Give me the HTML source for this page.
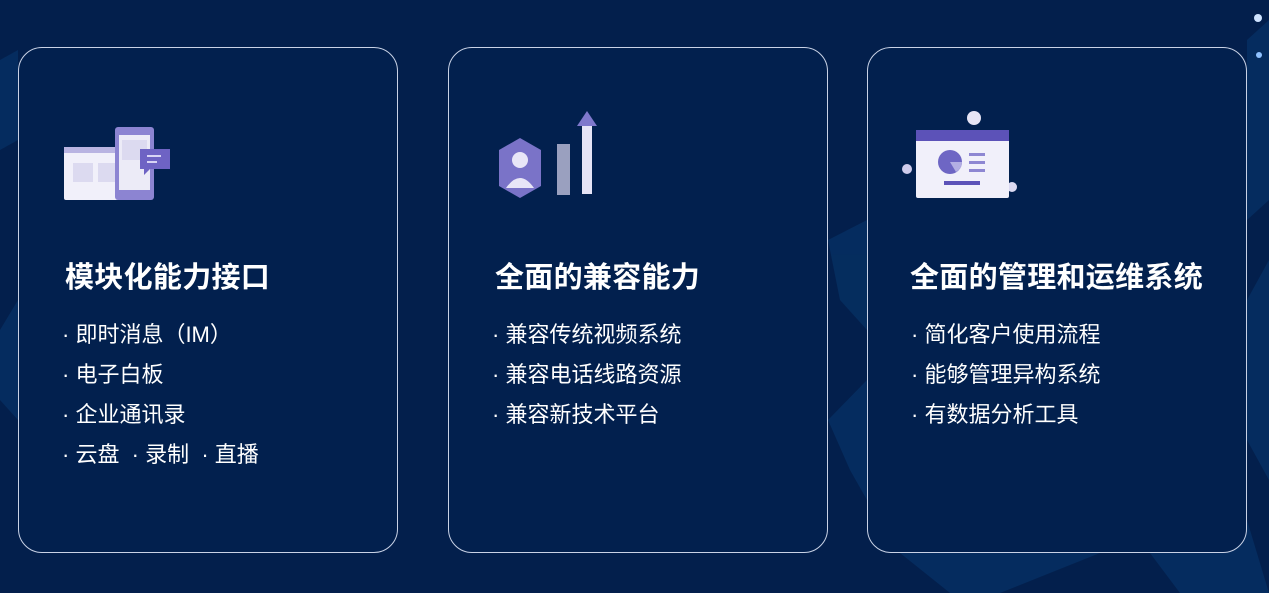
<!DOCTYPE html>
<html><head><meta charset="utf-8"><style>
body{margin:0;width:1269px;height:593px;background:#031f4c;overflow:hidden;position:relative;font-family:"Liberation Sans","Noto Sans CJK SC",sans-serif;color:#fff}
.bg{position:absolute;left:0;top:0}
.card{position:absolute;top:47px;width:380px;height:506px;border:1px solid #c9d2e6;border-radius:24px;background:#02204e;box-sizing:border-box}
.t{position:absolute;top:254px;font-size:29px;font-weight:bold;white-space:nowrap;letter-spacing:0.3px}
.l{position:absolute;top:315px;font-size:22px;line-height:40px;white-space:nowrap}
.icon{position:absolute}
</style></head><body>
<svg class="bg" width="1269" height="593">
<g fill="#0b4d8a" opacity="0.3">
<polygon points="0,60 18,50 18,140 0,150"/>
<polygon points="0,330 18,300 18,420 0,400"/>
<polygon points="828,240 867,220 867,330 840,300"/>
<polygon points="828,420 867,380 867,500 850,470"/>
<polygon points="1247,40 1269,20 1269,200 1247,220"/>
<polygon points="1247,300 1269,260 1269,480 1247,440"/>
<polygon points="900,553 1100,553 1000,593 950,593"/>
<polygon points="1150,553 1247,520 1269,593 1180,593"/>
</g>
<circle cx="1258" cy="18" r="4" fill="#cfe3ff"/><circle cx="1259" cy="55" r="3" fill="#8fc1ff"/>
</svg>

<div class="card" style="left:18px"></div>
<div class="card" style="left:448px"></div>
<div class="card" style="left:867px"></div>

<svg class="icon" style="left:60px;top:125px" width="115" height="80">
<rect x="4" y="22" width="88" height="53" rx="2" fill="#f1f0fa"/>
<rect x="4" y="22" width="88" height="6" fill="#b9b4e2"/>
<rect x="13" y="38" width="20" height="19" fill="#dcdaf0"/><rect x="38" y="38" width="20" height="19" fill="#dcdaf0"/>
<rect x="55" y="2" width="39" height="73" rx="3" fill="#8c84d2"/>
<rect x="59" y="10" width="31" height="55" fill="#ecebf7"/>
<rect x="62" y="15" width="25" height="20" fill="#dcdaf0"/>
<path d="M80 24h30v20h-20l-6 6v-6h-4z" fill="#6e63c4"/>
<rect x="87" y="30" width="14" height="2" fill="#d8d4f5"/><rect x="87" y="36" width="10" height="2" fill="#d8d4f5"/>
</svg>

<svg class="icon" style="left:490px;top:108px" width="120" height="95">
<polygon points="30,30 51,42 51,78 30,90 9,78 9,42" fill="#7a73c8"/>
<circle cx="30" cy="52" r="8" fill="#e8e6f7"/>
<path d="M16 80 q14-20 28 0z" fill="#e8e6f7"/>
<rect x="67" y="36" width="13" height="51" fill="#9aa0bf"/>
<rect x="92" y="18" width="10" height="68" fill="#e6e4f6"/>
<polygon points="87,18 97,3 107,18" fill="#7f78cc"/>
</svg>

<svg class="icon" style="left:900px;top:108px" width="125" height="95">
<circle cx="74" cy="10" r="7" fill="#e6e4f5"/>
<circle cx="7" cy="61" r="5" fill="#cfccec"/>
<circle cx="112" cy="79" r="5" fill="#dcdaf2"/>
<rect x="16" y="22" width="93" height="68" rx="2" fill="#f1f0fa"/>
<rect x="16" y="22" width="93" height="11" fill="#5c52b8"/>
<circle cx="50" cy="54" r="12" fill="#6e66c4"/>
<path d="M50 54 l12 0 a12 12 0 0 1 -6 10z" fill="#b3aee3"/>
<rect x="69" y="45" width="16" height="3" fill="#8e87d2"/><rect x="69" y="53" width="16" height="3" fill="#8e87d2"/><rect x="69" y="61" width="16" height="3" fill="#8e87d2"/>
<rect x="44" y="73" width="36" height="4" fill="#5c52b8"/>
</svg>

<div class="t" style="left:65px">模块化能力接口</div>
<div class="t" style="left:495px">全面的兼容能力</div>
<div class="t" style="left:910px">全面的管理和运维系统</div>

<div class="l" style="left:62px">· 即时消息（IM）<br>· 电子白板<br>· 企业通讯录<br>· 云盘 &nbsp;· 录制 &nbsp;· 直播</div>
<div class="l" style="left:492px">· 兼容传统视频系统<br>· 兼容电话线路资源<br>· 兼容新技术平台</div>
<div class="l" style="left:911px">· 简化客户使用流程<br>· 能够管理异构系统<br>· 有数据分析工具</div>
</body></html>
